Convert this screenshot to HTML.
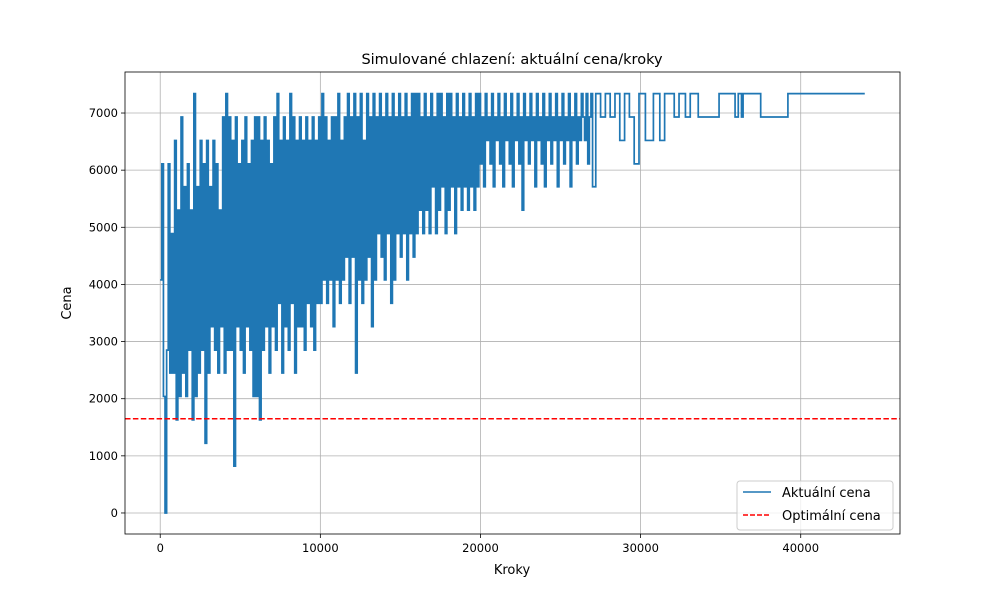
<!DOCTYPE html>
<html><head><meta charset="utf-8"><style>
html,body{margin:0;padding:0;background:#fff;}
svg{display:block;font-family:"DejaVu Sans","Liberation Sans",sans-serif;}
</style></head><body>
<svg id="chart" width="1000" height="600">
<rect width="1000" height="600" fill="#fff"/>
<text x="512" y="64" text-anchor="middle" font-size="14.5">Simulované chlazení: aktuální cena/kroky</text>
<g id="grid"></g><g id="series"></g><g id="axes"></g>
<text x="512" y="574" text-anchor="middle" font-size="13">Kroky</text>
<text x="71" y="303" text-anchor="middle" font-size="13" transform="rotate(-90 71 303)">Cena</text>
<g>
<rect x="737" y="481" width="156" height="49" rx="3" fill="#fff" fill-opacity="0.8" stroke="#ccc"/>
<line x1="743" y1="492" x2="771" y2="492" stroke="#1f77b4" stroke-width="1.5"/>
<text x="782" y="497" font-size="13">Aktuální cena</text>
<line x1="743" y1="515" x2="771" y2="515" stroke="red" stroke-width="1.5" stroke-dasharray="5,2"/>
<text x="782" y="520" font-size="13">Optimální cena</text>
</g>
</svg>
<script>
const denseStart = 0;
const denseStep = 100;
const denseCost = [
4080,6110,2040,0,2850,6110,2450,4890,2450,6520,1630,5300,2040,6930,2450,5710,2040,6110,2850,5300,
1630,7340,2040,5710,2450,6520,2850,6110,1220,6520,2450,5710,3260,6520,2850,6110,2450,5300,3260,6930,
2450,7340,2850,6930,2850,6520,820,6930,3260,6110,2850,6520,2450,6930,3260,6110,2850,6520,2040,6930,
2040,6930,1630,6520,2850,6930,3260,6520,2450,6110,3260,6930,2850,7340,3670,6520,2450,6930,3260,6520,
2850,7340,3670,6930,2450,6520,3260,6930,3260,6520,2850,6930,3670,6520,3260,6930,2850,6520,3670,6930,
3670,7340,4080,6930,3670,6520,4080,6930,3260,6930,4080,7340,3670,6520,4080,6930,4480,7340,3670,6930,
4480,7340,2450,6930,4080,7340,3670,6520,4080,7340,4480,6930,3260,7340,4080,6930,4890,7340,4480,6930,
4080,7340,4890,6930,3670,7340,4080,6930,4890,7340,4480,6930,4890,7340,4080,6930,4890,7340,4480,7340,
4890,7340,5300,6930,4890,7340,5300,6930,4890,7340,5710,6930,4890,7340,5300,7340,5710,6930,4890,7340,
5300,7340,5710,6930,4890,7340,5710,6930,5300,7340,5710,6930,5300,7340,5710,6930,5300,7340,5710,7340,
6110,6930,5710,7340,6520,6930,6110,7340,5710,6930,
6520,7340,6110,6930,5710,7340,6520,6930,6110,7340,
5710,6930,6520,7340,6110,6930,5300,7340,6520,6930,
6110,7340,6520,6930,5710,7340,6520,6930,6110,7340,
5710,6930,6520,7340,6110,6930,6520,7340,5710,6930,
6520,7340,6110,6930,6520,7340,5710,6930,6520,7340,
6110,6930,6520,7340,6930,6520,7340,6110,6930,7340];
const tailSteps = [27000,27200,27500,27800,28100,28400,28700,29000,29300,29600,29900,30300,30800,31200,31500,32100,32400,32800,33100,33600,34900,35900,36100,36300,36400,37500,39200,44000];
const tailCost = [5710,7340,6930,7340,6930,7340,6520,7340,6930,6110,7340,6520,7340,6520,7340,6930,7340,6930,7340,6930,7340,6930,7340,6930,7340,6930,7340,7340];
const optimalCost = 1650;
const xTicks = [0,10000,20000,30000,40000];
const yTicks = [0,1000,2000,3000,4000,5000,6000,7000];

const L=125,R=900,T=72,B=534;
const X0=-2200,X1=46200,Y0=-368,Y1=7718;
const sx=v=>L+(v-X0)/(X1-X0)*(R-L);
const sy=v=>B-(v-Y0)/(Y1-Y0)*(B-T);
const NS="http://www.w3.org/2000/svg";
function mk(tag,attrs,parent){const e=document.createElementNS(NS,tag);for(const k in attrs)e.setAttribute(k,attrs[k]);parent.appendChild(e);return e;}
const grid=document.getElementById('grid'),axes=document.getElementById('axes'),series=document.getElementById('series');
xTicks.forEach(t=>{
  const gl=mk('line',{x1:sx(t),x2:sx(t),y1:T,y2:B,stroke:'#b0b0b0','stroke-width':0.8},grid);
  
  
  mk('line',{x1:sx(t),x2:sx(t),y1:B,y2:B+4,stroke:'#000','stroke-width':0.8},axes);
  const tx=mk('text',{x:sx(t),y:B+18,'text-anchor':'middle','font-size':11.5},axes);
  tx.textContent=t;
  
  
});
yTicks.forEach(t=>{
  const gl=mk('line',{x1:L,x2:R,y1:sy(t),y2:sy(t),stroke:'#b0b0b0','stroke-width':0.8},grid);
  
  
  mk('line',{x1:L-4,x2:L,y1:sy(t),y2:sy(t),stroke:'#000','stroke-width':0.8},axes);
  const tx=mk('text',{x:L-7,y:sy(t)+4,'text-anchor':'end','font-size':11.5},axes);
  tx.textContent=t;
  
  
});
const frame=mk('rect',{x:L,y:T,width:R-L,height:B-T,fill:'none',stroke:'#000','stroke-width':0.8},axes);


const pts=[];
denseCost.forEach((c,i)=>pts.push([denseStart+i*denseStep,c]));
tailSteps.forEach((s,i)=>pts.push([s,tailCost[i]]));
let d='';
pts.forEach((p,i)=>{
  if(i===0){d+='M'+sx(p[0]).toFixed(2)+','+sy(p[1]).toFixed(2);}
  else{d+='H'+sx(p[0]).toFixed(2)+'V'+sy(p[1]).toFixed(2);}
});
const line=mk('path',{d:d,fill:'none',stroke:'#1f77b4','stroke-width':1.7,'stroke-linejoin':'miter'},series);


const opt=mk('line',{x1:L,x2:R,y1:sy(optimalCost),y2:sy(optimalCost),stroke:'red','stroke-width':1.5,'stroke-dasharray':'5.5,2.4'},series);


</script>
</body></html>
